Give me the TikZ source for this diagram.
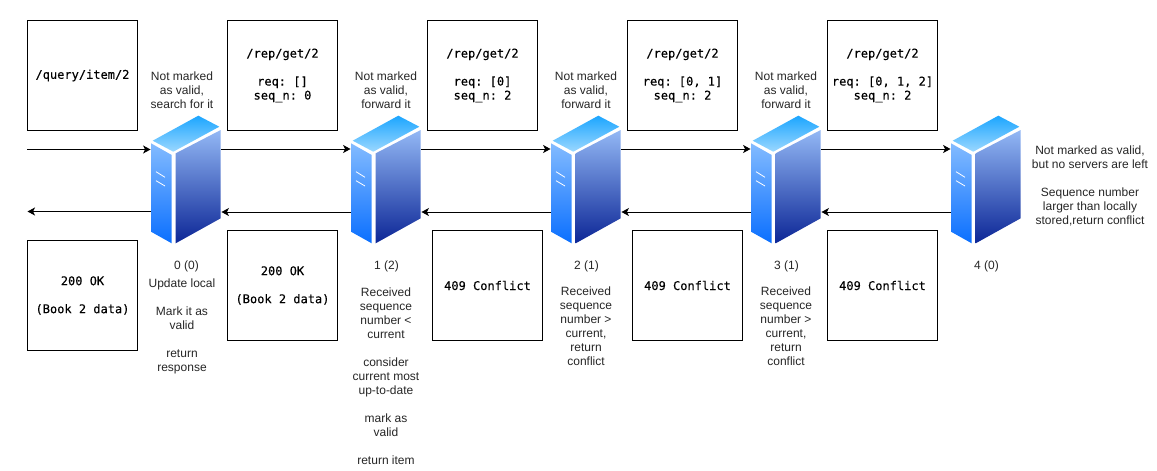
\documentclass[tikz,border=0pt]{standalone}
\usepackage{fontspec}
\setmainfont{Liberation Sans}
\setmonofont{DejaVu Sans Mono}[FakeBold=0.25]
\usetikzlibrary{arrows.meta}
\definecolor{srvlefttop}{HTML}{83BBFF}
\definecolor{srvleftbot}{HTML}{0A6FFF}
\definecolor{srvrighttop}{HTML}{93B8F5}
\definecolor{srvrightbot}{HTML}{0C2696}
\definecolor{srvtoptop}{HTML}{1CA6FF}
\definecolor{srvtopbot}{HTML}{9AD7FF}

\begin{document}
\begin{tikzpicture}[x=1pt,y=-1pt,>={Stealth[length=7.5pt,width=8pt,inset=2pt]},
  msgbox/.style={draw=black,line width=1pt,minimum width=110pt,minimum height=110pt,inner sep=0pt,align=center,font=\fontsize{12}{14}\selectfont\ttfamily},
  note/.style={inner sep=0pt,align=center,text=black!85,font=\fontsize{12}{14}\selectfont},
  srvbox/.style={minimum width=70.5pt,minimum height=128pt,inner sep=0pt},
  link/.style={->,line width=1pt,black},
  srvpic/.pic={
    \shade[top color=srvlefttop,bottom color=srvleftbot] (-35,-36.2) -- (-14.3,-24.5) -- (-14.3,63.8) -- (-35,52.2) -- cycle;
    \shade[top color=srvrighttop,bottom color=srvrightbot] (-10.3,-26.2) -- (34.7,-49.5) -- (34.7,38.8) -- (-10.3,63.8) -- cycle;
    \shade[top color=srvtoptop,bottom color=srvtopbot] (-33.3,-38.8) -- (12.3,-63.8) -- (33.3,-52.8) -- (-12.7,-27.8) -- cycle;
    \draw[white,line width=0.8pt] (-30,-7.8) -- (-21,-2.2) (-30,1.2) -- (-21,6.5);
  }]
\useasboundingbox (0,0) rectangle (1157,471);

% request boxes
\node[msgbox] (req0) at (82.5,75.5) {/query/item/2};
\node[msgbox] (req1) at (282.5,75.5) {/rep/get/2\\[14pt]req: []\\seq\_n: 0};
\node[msgbox] (req2) at (482.5,75.5) {/rep/get/2\\[14pt]req: [0]\\seq\_n: 2};
\node[msgbox] (req3) at (682.5,75.5) {/rep/get/2\\[14pt]req: [0, 1]\\seq\_n: 2};
\node[msgbox] (req4) at (882.5,75.5) {/rep/get/2\\[14pt]req: [0, 1, 2]\\seq\_n: 2};

% response boxes
\node[msgbox] (res0) at (82.5,295.5) {200 OK\\[14pt](Book 2 data)};
\node[msgbox] (res1) at (282.5,285.5) {200 OK\\[14pt](Book 2 data)};
\node[msgbox] (res2) at (487.5,285.5) {409 Conflict};
\node[msgbox] (res3) at (687.5,285.5) {409 Conflict};
\node[msgbox] (res4) at (882.5,285.5) {409 Conflict};

% servers
\node[srvbox] (srv0) at (186,179.5) {};
\node[srvbox] (srv1) at (386,179.5) {};
\node[srvbox] (srv2) at (586,179.5) {};
\node[srvbox] (srv3) at (786,179.5) {};
\node[srvbox] (srv4) at (986,179.5) {};
\pic at (srv0) {srvpic};
\pic at (srv1) {srvpic};
\pic at (srv2) {srvpic};
\pic at (srv3) {srvpic};
\pic at (srv4) {srvpic};

% notes above the servers
\node[note] (abv0) at (182,90.5) {Not marked\\as valid,\\search for it};
\node[note] (abv1) at (386,90.5) {Not marked\\as valid,\\forward it};
\node[note] (abv2) at (586,90.5) {Not marked\\as valid,\\forward it};
\node[note] (abv3) at (786,90.5) {Not marked\\as valid,\\forward it};
\node[note] (abv4) at (1090,185.5) {Not marked as valid,\\but no servers are left\\[14pt]Sequence number\\larger than locally\\stored,return conflict};

% counters and notes below the servers
\node[note] (cnt0) at (186.5,266.5) {0 (0)};
\node[note] (cnt1) at (386.5,266.5) {1 (2)};
\node[note] (cnt2) at (586.5,266.5) {2 (1)};
\node[note] (cnt3) at (786.5,266.5) {3 (1)};
\node[note] (cnt4) at (986.5,266.5) {4 (0)};
\node[note] (blw0) at (182,326) {Update local\\[14pt]Mark it as\\valid\\[14pt]return\\response};
\node[note] (blw1) at (386,376) {Received\\sequence\\number <\\current\\[14pt]consider\\current most\\up-to-date\\[14pt]mark as\\valid\\[14pt]return item};
\node[note] (blw2) at (586,326) {Received\\sequence\\number >\\current,\\return\\conflict};
\node[note] (blw3) at (786,326) {Received\\sequence\\number >\\current,\\return\\conflict};

% arrows
\coordinate (src) at (27,149.5);
\coordinate (dst) at (27.5,211.5);
\draw[link] (src) -- ([yshift=30pt]srv0.west);
\draw[link] ([yshift=30.5pt]srv0.east) -- ([yshift=30.5pt]srv1.west);
\draw[link] ([yshift=30.5pt]srv1.east) -- ([yshift=30.5pt]srv2.west);
\draw[link] ([yshift=30.5pt]srv2.east) -- ([yshift=30.5pt]srv3.west);
\draw[link] ([yshift=30.5pt]srv3.east) -- ([yshift=30.5pt]srv4.west);
\draw[link] ([yshift=-32pt]srv0.west) -- (dst);
\draw[link] ([yshift=-32.5pt]srv1.west) -- ([yshift=-32.5pt]srv0.east);
\draw[link] ([yshift=-32.5pt]srv2.west) -- ([yshift=-32.5pt]srv1.east);
\draw[link] ([yshift=-32.5pt]srv3.west) -- ([yshift=-32.5pt]srv2.east);
\draw[link] ([yshift=-32.5pt]srv4.west) -- ([yshift=-32.5pt]srv3.east);
\end{tikzpicture}
\end{document}
